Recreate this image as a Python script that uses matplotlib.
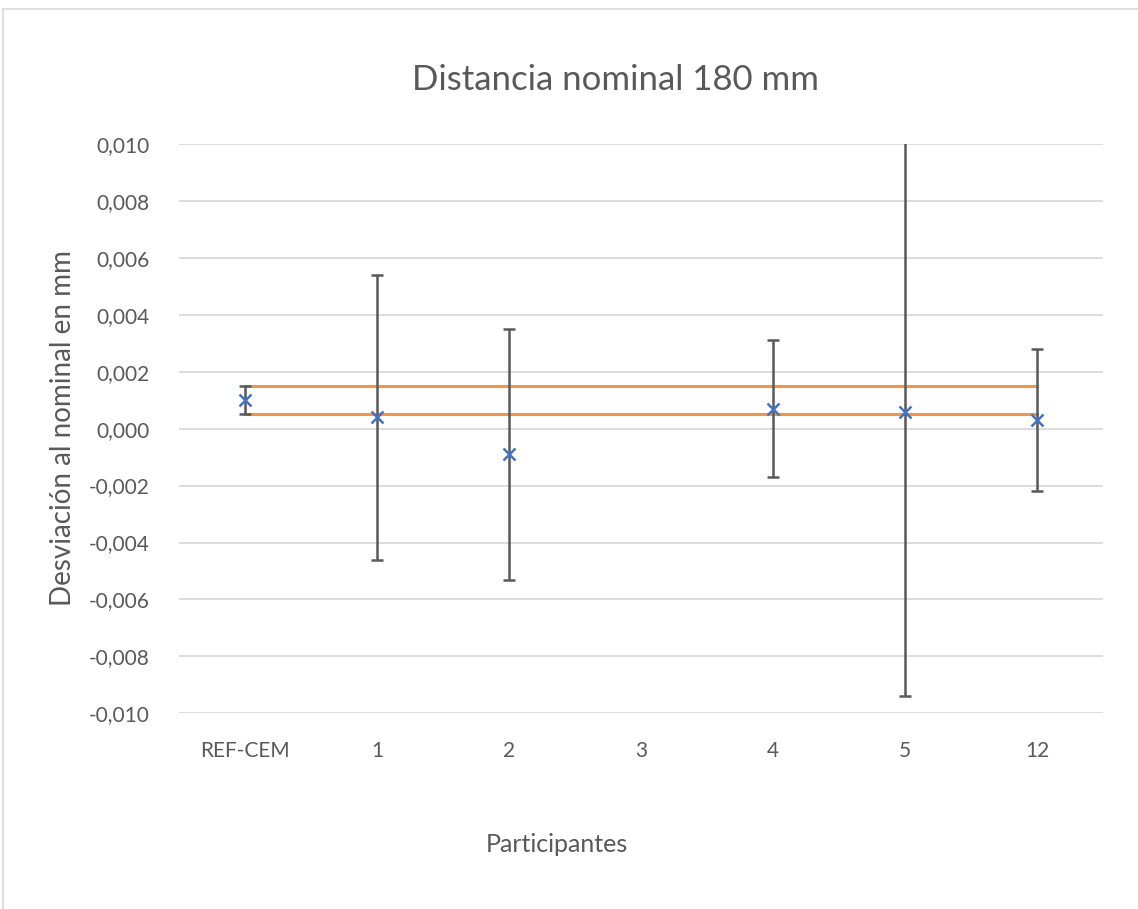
import numpy as np
import matplotlib
matplotlib.use("Agg")
import matplotlib.pyplot as plt
from matplotlib.ticker import FuncFormatter, MultipleLocator
from matplotlib.lines import Line2D

plt.rcParams['font.family'] = ['Lato', 'DejaVu Sans']

# datos de la comparación
participantes = ["REF-CEM", "1", "2", "3", "4", "5", "12"]
desviacion = [0.0010, 0.0004, -0.0009, np.nan, 0.0007, 0.0006, 0.0003]
incertidumbre = [0.0005, 0.0050, 0.0044, np.nan, 0.0024, 0.0100, 0.0025]
limite_sup = [0.0015] * len(participantes)
limite_inf = [0.0005] * len(participantes)

gris = "#595959"
azul = "#4472C4"
naranja = "#F39545"

W, H = 1138, 909
fig = plt.figure(figsize=(W / 100, H / 100), dpi=100)
ax = fig.add_axes([179 / W, 1 - 713.3 / H, 924 / W, 569.3 / H])

x = np.arange(len(participantes))

ax.plot(x, limite_sup, color=naranja, lw=2.2, zorder=3)
ax.plot(x, limite_inf, color=naranja, lw=2.2, zorder=3)

ax.errorbar(x, desviacion, yerr=incertidumbre, fmt='none', ecolor=gris,
            elinewidth=1.8, capsize=4.5, capthick=1.8, zorder=4)
ax.plot(x, desviacion, linestyle='none', marker='x', color=azul,
        markersize=9, markeredgewidth=1.8, zorder=5)

ax.set_xlim(-0.5, len(participantes) - 0.5)
ax.set_ylim(-0.010, 0.010)
ax.yaxis.set_major_locator(MultipleLocator(0.002))
ax.yaxis.set_major_formatter(FuncFormatter(lambda v, p: f"{v:.3f}".replace('.', ',').replace('-0,000', '0,000')))
ax.set_xticks(x)
ax.set_xticklabels(participantes)

ax.grid(axis='y', color='#d9d9d9', lw=1.3)
ax.set_axisbelow(True)
for s in ax.spines.values():
    s.set_visible(False)
ax.tick_params(axis='both', length=0, colors=gris, labelsize=15)
ax.tick_params(axis='y', pad=21)
ax.tick_params(axis='x', pad=20)

# título y etiquetas de los ejes
fig.text(615 / W, 1 - 80 / H, "Distancia nominal 180 mm", fontsize=25,
         color=gris, ha='center', va='center')
fig.text(557 / W, 1 - 845 / H, "Participantes", fontsize=18,
         color=gris, ha='center', va='center')
fig.text(63 / W, 1 - 428 / H, "Desviación al nominal en mm", fontsize=20,
         color=gris, ha='center', va='center', rotation=90)

# borde del área del gráfico
borde = "#d9d9d9"
fig.add_artist(Line2D([3 / W, 1], [1 - 9 / H] * 2, color=borde, lw=1.2))
fig.add_artist(Line2D([3 / W] * 2, [0, 1 - 9 / H], color=borde, lw=1.2))

fig.savefig("out.png", dpi=100)
